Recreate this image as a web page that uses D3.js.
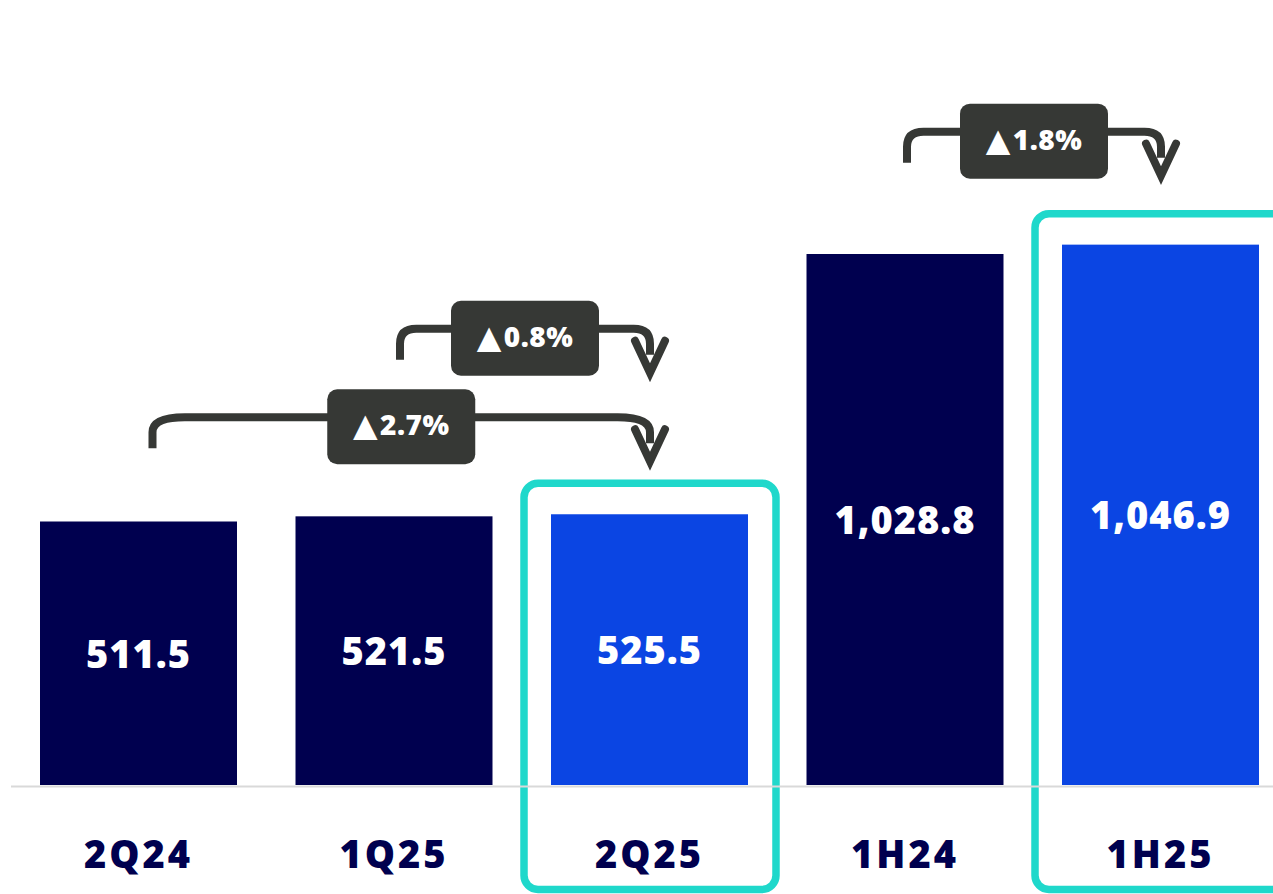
<!DOCTYPE html>
<html lang="en">
<head>
  <meta charset="UTF-8">
  <title>Quarterly and half-year values</title>
  <script src="https://d3js.org/d3.v7.min.js"></script>
  <style>
    html, body { margin: 0; padding: 0; background: #fff; }
    svg { display: block; font-family: "Open Sans", "DejaVu Sans", sans-serif; }
  </style>
</head>
<body>
  <div id="chart"></div>

  <script>
    // chart data
    const categories = ["2Q24", "1Q25", "2Q25", "1H24", "1H25"];
    const values = [511.5, 521.5, 525.5, 1028.8, 1046.9];
    const highlighted = ["2Q25", "1H25"];

    // change brackets: from -> to with label
    const changeFrom = ["2Q24", "1Q25", "1H24"];
    const changeTo = ["2Q25", "2Q25", "1H25"];
    const changeLabels = ["2.7%", "0.8%", "1.8%"];

    const width = 1273, height = 894;
    const baseY = 786;

    const navy = "#00004f", blue = "#0b45e3", teal = "#1fd8cb", grey = "#363835";

    const svg = d3.select("#chart").append("svg")
      .attr("width", width)
      .attr("height", height);

    const x = d3.scaleBand()
      .domain(categories)
      .range([10.75, 1288.25])
      .paddingInner(0.229)
      .paddingOuter(0.1145);

    const y = d3.scaleLinear()
      .domain([0, 1520])
      .range([baseY, 0]);

    const data = categories.map((c, i) => ({ cat: c, value: values[i] }));
    const cx = c => x(c) + x.bandwidth() / 2;
    const fmt = d3.format(",.1f");

    // highlight frames (drawn first so bars sit on top)
    svg.selectAll("rect.frame")
      .data(data.filter(d => highlighted.includes(d.cat)))
      .enter().append("rect")
        .attr("class", "frame")
        .attr("x", d => x(d.cat) - 27)
        .attr("y", d => y(d.value) - 31)
        .attr("width", x.bandwidth() + 55)
        .attr("height", d => 889.5 - (y(d.value) - 31))
        .attr("rx", 14)
        .attr("fill", "none")
        .attr("stroke", teal)
        .attr("stroke-width", 7.5);

    // baseline
    svg.append("line")
      .attr("x1", 11).attr("x2", width)
      .attr("y1", baseY + 0.5).attr("y2", baseY + 0.5)
      .attr("stroke", "#d9d9d9")
      .attr("stroke-width", 2);

    // bars
    svg.selectAll("rect.bar")
      .data(data)
      .enter().append("rect")
        .attr("class", "bar")
        .attr("x", d => x(d.cat))
        .attr("y", d => y(d.value))
        .attr("width", x.bandwidth())
        .attr("height", d => y(0) - y(d.value) - 1)
        .attr("fill", d => highlighted.includes(d.cat) ? blue : navy);

    // value labels
    svg.selectAll("text.val")
      .data(data)
      .enter().append("text")
        .attr("class", "val")
        .attr("x", d => cx(d.cat))
        .attr("y", d => (y(d.value) + y(0)) / 2 + 14)
        .attr("text-anchor", "middle")
        .attr("fill", "#fff")
        .attr("font-size", 38)
        .attr("font-weight", 800)
        .attr("letter-spacing", 1)
        .text(d => fmt(d.value));

    // category labels
    svg.selectAll("text.cat")
      .data(categories)
      .enter().append("text")
        .attr("class", "cat")
        .attr("x", d => cx(d))
        .attr("y", 868)
        .attr("text-anchor", "middle")
        .attr("fill", navy)
        .attr("font-size", 38)
        .attr("font-weight", 800)
        .attr("letter-spacing", 3)
        .text(d => d);

    // bracket layout (pixels above the taller bar, small x nudges)
    const bracketLift = [97, 185.5, 113];
    const startNudge = [14, 6, 2];

    changeLabels.forEach((label, i) => {
      const a = changeFrom[i], b = changeTo[i];
      const x1 = cx(a) + startNudge[i];
      const x2 = cx(b) + 0.5;
      const top = Math.min(y(values[categories.indexOf(a)]), y(values[categories.indexOf(b)]));
      const ly = top - bracketLift[i];
      const rx = Math.min(33, (x2 - x1) * 0.065);
      const ry = 15;

      const g = svg.append("g");

      g.append("path")
        .attr("d", `M${x1},${ly + 31} L${x1},${ly + ry} Q${x1},${ly} ${x1 + rx},${ly}` +
                   ` L${x2 - rx},${ly} Q${x2},${ly} ${x2},${ly + ry} L${x2},${ly + 26}`)
        .attr("fill", "none")
        .attr("stroke", grey)
        .attr("stroke-width", 8);

      const tip = ly + 44;
      g.append("path")
        .attr("d", `M${x2 - 15},${tip - 32} L${x2},${tip} L${x2 + 15},${tip - 32}`)
        .attr("fill", "none")
        .attr("stroke", grey)
        .attr("stroke-width", 8)
        .attr("stroke-linecap", "round")
        .attr("stroke-linejoin", "miter");

      const mid = (x1 + x2) / 2;
      const bw = 148, bh = 75;
      g.append("rect")
        .attr("x", mid - bw / 2)
        .attr("y", ly + 9.5 - bh / 2)
        .attr("width", bw)
        .attr("height", bh)
        .attr("rx", 10)
        .attr("fill", grey);

      const t = g.append("text")
        .attr("x", mid)
        .attr("y", ly + 18)
        .attr("text-anchor", "middle")
        .attr("fill", "#fff")
        .attr("font-size", 28)
        .attr("font-weight", 800)
        .attr("letter-spacing", 0.5);
      t.append("tspan")
        .attr("font-family", "DejaVu Sans")
        .attr("font-size", 32)
        .attr("dy", 1)
        .text("▲");
      t.append("tspan")
        .attr("dx", 2)
        .attr("dy", -1)
        .text(label);
    });
  </script>
</body>
</html>
